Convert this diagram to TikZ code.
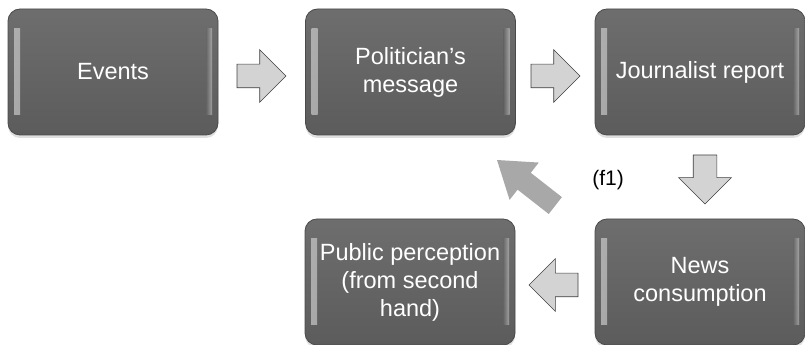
\documentclass[tikz,border=0pt]{standalone}
\usepackage{fontspec}
\setmainfont{Liberation Sans}
\usepackage{xcolor}
\usepackage{tikz}
\definecolor{boxgray}{HTML}{666666}
\definecolor{boxrim}{HTML}{4A4A4A}
\definecolor{arrowfill}{HTML}{D3D3D3}
\definecolor{bigarrow}{HTML}{A8A8A8}
\tikzstyle{block} = [rectangle, rounded corners=12pt, minimum width=210pt, minimum height=126pt,
    inner sep=0pt, outer sep=0pt, align=center, text=white,
    font=\fontsize{23.5}{28}\selectfont,
    top color=boxgray!95!white, bottom color=boxgray!90!black, draw=boxrim, line width=0.8pt,
    drop shadow={shadow xshift=0pt, shadow yshift=-3pt, opacity=.25},
    path picture={
      \shade[sharp corners, draw=none, left color=white!75!gray, right color=boxgray, opacity=.6]
        ([xshift=6pt,yshift=-20pt]path picture bounding box.north west) rectangle
        ([xshift=12pt,yshift=20pt]path picture bounding box.south west);
      \shade[sharp corners, draw=none, right color=white!75!gray, left color=boxgray, opacity=.5]
        ([xshift=-12pt,yshift=-20pt]path picture bounding box.north east) rectangle
        ([xshift=-6pt,yshift=20pt]path picture bounding box.south east);
    }]
\tikzstyle{flow} = [single arrow, draw=black!75, fill=arrowfill, line width=0.6pt,
    minimum height=49pt, minimum width=52pt, single arrow head extend=14.5pt,
    inner sep=11.5pt, outer sep=0pt]
\tikzstyle{back} = [single arrow, draw=none, fill=bigarrow,
    minimum height=74pt, minimum width=47pt, single arrow head extend=13pt,
    single arrow tip angle=69, inner sep=10.5pt, outer sep=0pt]
\usetikzlibrary{calc}
\usetikzlibrary{positioning}
\usetikzlibrary{shadows}
\usetikzlibrary{shapes.arrows}

\begin{document}
\begin{tikzpicture}[x=1pt,y=1pt]
    \useasboundingbox (0,0) rectangle (805,345);

    \node[block] (events) at (113,273) {Events};
    \node[block, right=87.5pt of events] (pol) {Politician’s\\message};
    \node[block, right=79.5pt of pol] (jour) {Journalist report};
    \node[block, below=84pt of jour] (news) {News\\consumption};
    \node[block, left=80pt of news] (public) {Public perception\\(from second\\hand)};

    \node[flow, anchor=tail] (a1) at ($(events.east)+(19,-4)$) {};
    \node[flow, anchor=tail] (a2) at ($(pol.east)+(15.5,-4)$) {};
    \node[flow, anchor=tail, rotate=-90] (a3) at ($(jour.south)+(5,-20)$) {};
    \node[flow, anchor=tail, rotate=180] (a4) at ($(news.west)+(-17,-3)$) {};

    \node[back, anchor=tip, rotate=142] (fb) at ($(pol.south east)+(-18.5,-25)$) {};
    \node[font=\fontsize{21}{24}\selectfont] (f1) at ($(jour.south west)+(13,-45)$) {(f1)};
  \end{tikzpicture}
\end{document}
